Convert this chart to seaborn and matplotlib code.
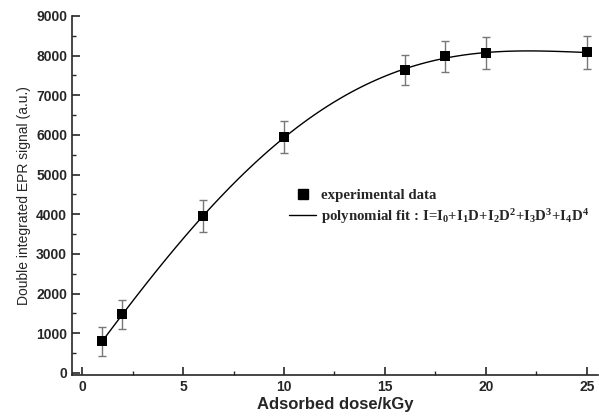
import matplotlib
matplotlib.use("Agg")
import matplotlib.pyplot as plt
from matplotlib.lines import Line2D
from matplotlib.ticker import MultipleLocator
import numpy as np
import pandas as pd
import seaborn as sns

# data
dose = [1, 2, 6, 10, 16, 18, 20, 25]
signal = [800, 1480, 3960, 5940, 7640, 7980, 8060, 8080]
signal_err = [370, 370, 400, 400, 380, 400, 400, 410]

df = pd.DataFrame({"dose": dose, "signal": signal, "err": signal_err})

sns.set_style("ticks")
plt.rcParams["font.family"] = ["Liberation Sans", "DejaVu Sans"]
plt.rcParams["mathtext.fontset"] = "custom"
plt.rcParams["mathtext.rm"] = "Liberation Serif:bold"
plt.rcParams["mathtext.it"] = "Liberation Serif:bold"
plt.rcParams["mathtext.bf"] = "Liberation Serif:bold"

fig = plt.figure(figsize=(5.99, 4.16), dpi=100)
ax = fig.add_axes([0.1202, 0.0986, 0.878, 0.863])

# polynomial fit (4th order) through the data
sns.regplot(data=df, x="dose", y="signal", order=4, scatter=False, ci=None,
            color="black", line_kws={"lw": 1.0}, ax=ax)

ax.errorbar(df["dose"], df["signal"], yerr=df["err"], fmt="none",
            ecolor="#777777", elinewidth=1.0, capsize=3, capthick=1.0, zorder=3)
sns.scatterplot(data=df, x="dose", y="signal", marker="s", s=60, color="black",
                edgecolor="black", linewidth=0, zorder=4, ax=ax)

ax.set_xlim(-0.5, 25.55)
ax.set_ylim(-50, 9000)
ax.xaxis.set_major_locator(MultipleLocator(5))
ax.xaxis.set_minor_locator(MultipleLocator(2.5))
ax.yaxis.set_major_locator(MultipleLocator(1000))
ax.yaxis.set_minor_locator(MultipleLocator(500))
ax.tick_params(which="major", direction="in", length=6, width=1.2,
               labelsize=10)
ax.tick_params(which="minor", direction="in", length=3, width=1.0)
for lab in ax.get_xticklabels() + ax.get_yticklabels():
    lab.set_fontweight("bold")

for side in ["top", "right"]:
    ax.spines[side].set_visible(False)
for side in ["left", "bottom"]:
    ax.spines[side].set_linewidth(1.2)

ax.set_xlabel("Adsorbed dose/kGy", fontsize=12, fontweight="bold", labelpad=2)
ax.set_ylabel("Double integrated EPR signal (a.u.)", fontsize=10, labelpad=4)

handles = [
    Line2D([], [], marker="s", color="black", ls="none", markersize=7),
    Line2D([], [], color="black", lw=1.0),
]
labels = [
    "experimental data",
    "polynomial fit : I=I$_0$+I$_1$D+I$_2$D$^2$+I$_3$D$^3$+I$_4$D$^4$",
]
ax.legend(handles, labels, loc="upper left", bbox_to_anchor=(0.388, 0.556),
          frameon=False, handlelength=1.8, handletextpad=0.3, labelspacing=0.3,
          prop={"family": "Liberation Serif", "weight": "bold", "size": 10.7})

fig.savefig("out.png", dpi=100)
